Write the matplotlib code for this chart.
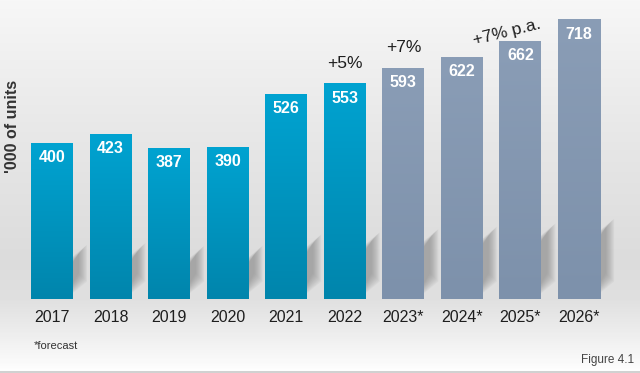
import numpy as np
import matplotlib
matplotlib.use("Agg")
import matplotlib.pyplot as plt
from matplotlib.colors import LinearSegmentedColormap
from matplotlib.patches import Polygon

plt.rcParams['font.family'] = ['Liberation Sans', 'DejaVu Sans']

years = ['2017', '2018', '2019', '2020', '2021', '2022', '2023*', '2024*', '2025*', '2026*']
units = [400, 423, 387, 390, 526, 553, 593, 622, 662, 718]
forecast = [False] * 6 + [True] * 4
growth_notes = [(5, '+5%'), (6, '+7%')]

W, H = 640, 373
fig = plt.figure(figsize=(W / 100, H / 100), dpi=100)
ax = fig.add_axes([0, 0, 1, 1])

# pixel layout of the original: baseline at y=299.5, 0.389 px per unit, bar pitch 58.56 px
px_per_unit = 0.389
pitch = 58.56
base_px = 299.5
x0_px = 52
xmin = -x0_px / pitch
xmax = (W - x0_px) / pitch
ymin = -(H - base_px) / px_per_unit
ymax = base_px / px_per_unit
ax.set_xlim(xmin, xmax)
ax.set_ylim(ymin, ymax)
ax.axis('off')

# background: grey wall fading to a lighter floor
bg_stops = [(0.0, '#ffffff'), (0.02, '#fbfbfb'), ((H - 330) / H, '#ececec'),
            ((H - 300) / H, '#e0e0e0'), ((H - 260) / H, '#dcdcdc'),
            ((H - 150) / H, '#e6e6e6'), ((H - 50) / H, '#f1f1f1'), (1.0, '#f7f7f7')]
bg_cmap = LinearSegmentedColormap.from_list('bg', bg_stops)
grad = np.linspace(0, 1, 400).reshape(-1, 1)
ax.imshow(grad, extent=[xmin, xmax, ymin, ymax], origin='lower', cmap=bg_cmap,
          aspect='auto', zorder=0)

bar_w = 42 / pitch
x = np.arange(len(years))

# soft diagonal shadows behind every bar, their height follows the bar
dx_px = 12
rise_px = 20
for xi, v in zip(x, units):
    r = xi + bar_w / 2
    t_px = 0.21 * v * px_per_unit
    for k in range(10):
        g = k * 0.9 - 2
        pts = [(r - 3 / pitch, (6 + g) / px_per_unit),
               (r + (dx_px - g) / pitch, (rise_px + g) / px_per_unit),
               (r + (dx_px - g) / pitch, (rise_px + t_px - g) / px_per_unit),
               (r - 3 / pitch, (6 + t_px - g) / px_per_unit)]
        ax.add_patch(Polygon(pts, closed=True, facecolor='#7a7a7a', edgecolor='none',
                             alpha=0.07, zorder=1))

blue_cmap = LinearSegmentedColormap.from_list('blue', ['#0085ac', '#00a3d1'])
grey_cmap = LinearSegmentedColormap.from_list('grey', ['#7d91ab', '#8a9db6'])

bars = ax.bar(x, units, width=bar_w, color='none', edgecolor='none', zorder=2)
for b, fc in zip(bars, forecast):
    bx, bw, bh = b.get_x(), b.get_width(), b.get_height()
    ax.imshow(grad, extent=[bx, bx + bw, 0, bh], origin='lower',
              cmap=grey_cmap if fc else blue_cmap, aspect='auto', zorder=3)
    ax.text(bx + bw / 2, bh - 14 / px_per_unit, f'{bh:.0f}', ha='center', va='center',
            color='white', fontsize=11.5, fontweight='bold', zorder=4)

for xi, lab in zip(x, years):
    ax.text(xi, -17.5 / px_per_unit, lab, ha='center', va='center', color='#1e1e1e',
            fontsize=11.5, zorder=4)

for i, note in growth_notes:
    ax.text(x[i], units[i] + 21 / px_per_unit, note, ha='center', va='center',
            color='#1e1e1e', fontsize=12.5, zorder=4)

ax.text((507 - x0_px) / pitch, (base_px - 32) / px_per_unit, '+7% p.a.', ha='center',
        va='center', rotation=14, rotation_mode='anchor', color='#1e1e1e', fontsize=12.5,
        zorder=4)

fig.text(13 / W, 1 - 126 / H, "'000 of units", rotation=90, ha='center', va='center',
         color='#333333', fontsize=11.5, fontweight='bold')
fig.text(34 / W, 1 - 346 / H, '*forecast', ha='left', va='center', color='#333333',
         fontsize=8)
fig.text(634 / W, 1 - 360 / H, 'Figure 4.1', ha='right', va='center', color='#444444',
         fontsize=8.5)

# thin border along the bottom edge
fig.add_artist(plt.Line2D([0, 1], [1 - 371.5 / H] * 2, color='#c8c8c8', lw=1.2))

fig.savefig('out.png', dpi=100)
